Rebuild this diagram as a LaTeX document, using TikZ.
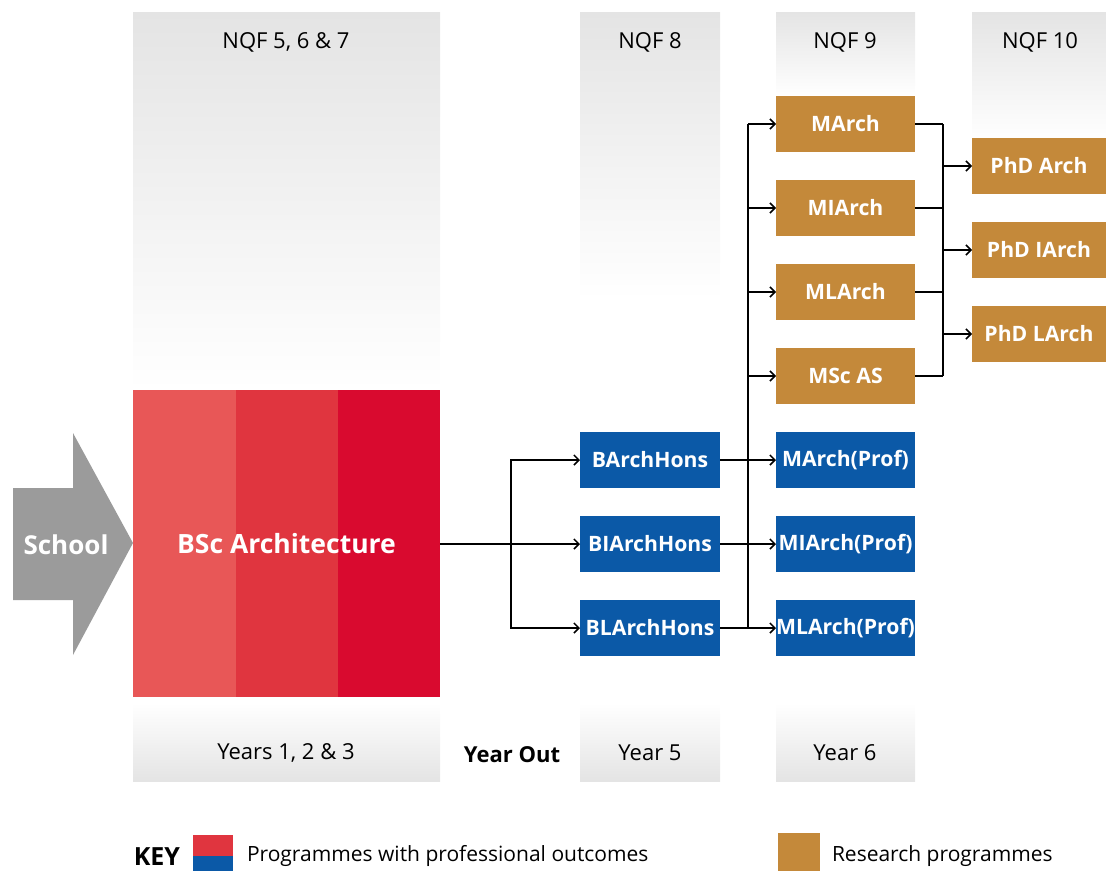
\documentclass[tikz,border=0pt]{standalone}
\usepackage{fontspec}
\setmainfont{Open Sans}
\usetikzlibrary{positioning,arrows.meta}
\definecolor{profblue}{HTML}{0B59A7}
\definecolor{resgold}{HTML}{C4893A}
\definecolor{yearone}{HTML}{E85757}
\definecolor{yeartwo}{HTML}{E0353F}
\definecolor{yearthree}{HTML}{D90A2F}
\definecolor{schoolgray}{HTML}{9B9B9B}
\definecolor{colgray}{HTML}{E4E4E4}
\begin{document}
\begin{tikzpicture}[x=1pt, y=-1pt,
    every node/.style={inner sep=0pt, outer sep=0pt},
    prog/.style={minimum height=56pt, text=white, font=\fontsize{21.2}{24}\selectfont\bfseries},
    prof/.style={prog, fill=profblue, minimum width=140pt},
    res/.style={prog, fill=resgold, minimum width=139pt},
    phd/.style={prog, fill=resgold, minimum width=134pt},
    level/.style={font=\fontsize{22}{26}\selectfont},
    keytext/.style={anchor=west, font=\fontsize{21}{25}\selectfont},
    link/.style={line width=1.5pt},
    arr/.style={link, -{Straight Barb[length=5pt, width=10pt]}}]
\useasboundingbox (0,0) rectangle (1106,871);
% level columns
\shade[top color=colgray, bottom color=white] (133,12) rectangle (440,390);
\shade[top color=colgray, bottom color=white] (580,12) rectangle (720,300);
\shade[top color=colgray, bottom color=white] (776,12) rectangle (915,96);
\shade[top color=colgray, bottom color=white] (972,12) rectangle (1106,140);
\shade[top color=white, bottom color=colgray] (133,703) rectangle (440,781);
\shade[top color=white, bottom color=colgray] (580,703) rectangle (720,781);
\shade[top color=white, bottom color=colgray] (776,703) rectangle (915,781);
\node[level] (nqfa) at (286,42) {NQF 5, 6 \& 7};
\node[level] (nqfb) at (650,42) {NQF 8};
\node[level] (nqfc) at (845,42) {NQF 9};
\node[level] (nqfd) at (1040,42) {NQF 10};
\node[level] (yra) at (286,753) {Years 1, 2 \& 3};
\node[level, font=\fontsize{22}{26}\selectfont\bfseries] (yrout) at (512,755) {Year Out};
\node[level] (yrb) at (650,753) {Year 5};
\node[level] (yrc) at (845,753) {Year 6};
% school and BSc
\fill[schoolgray] (13,488) -- (73,488) -- (73,433) -- (133,543) -- (73,655) -- (73,600) -- (13,600) -- cycle;
\node[prog, font=\fontsize{26}{30}\selectfont\bfseries] (school) at (66,545) {School};
\fill[yearone] (133,390) rectangle (236,697);
\fill[yeartwo] (236,390) rectangle (338,697);
\fill[yearthree] (338,390) rectangle (440,697);
\node[prog, minimum width=307pt, minimum height=307pt, font=\fontsize{26.5}{30}\selectfont\bfseries] (bsc) at (286.5,543.5) {BSc Architecture};
% programmes
\node[prof] (barch) at (650,460) {BArchHons};
\node[prof] (biarch) at (650,544) {BIArchHons};
\node[prof] (blarch) at (650,628) {BLArchHons};
\node[res] (march) at (845.5,124) {MArch};
\node[res] (miarch) at (845.5,208) {MIArch};
\node[res] (mlarch) at (845.5,292) {MLArch};
\node[res] (msc) at (845.5,376) {MSc AS};
\node[prof, minimum width=139pt] (marchp) at (845.5,460) {MArch(Prof)};
\node[prof, minimum width=139pt] (miarchp) at (845.5,544) {MIArch(Prof)};
\node[prof, minimum width=139pt] (mlarchp) at (845.5,628) {MLArch(Prof)};
\node[phd] (phda) at (1039,166) {PhD Arch};
\node[phd] (phdi) at (1039,250) {PhD IArch};
\node[phd] (phdl) at (1039,334) {PhD LArch};
% connectors
\coordinate (splitb) at (511,544);
\coordinate (splitm) at (748,544);
\coordinate (splitp) at (943,250);
\draw[link] (bsc.east |- splitb) -- (splitb);
\foreach \n in {barch,biarch,blarch}
  \draw[arr] (splitb) |- (\n.west);
\draw[arr] (barch) -- (marchp);
\draw[arr] (biarch) -- (miarchp);
\draw[arr] (blarch) -- (mlarchp);
\draw[link] (blarch.east -| splitm) -- (march.west -| splitm);
\foreach \n in {march,miarch,mlarch,msc}
  \draw[arr] (\n.west -| splitm) -- (\n.west);
\foreach \n in {march,miarch,mlarch,msc}
  \draw[link] (\n.east) -- (\n.east -| splitp);
\draw[link] (march.east -| splitp) -- (msc.east -| splitp);
\foreach \n in {phda,phdi,phdl}
  \draw[arr] (\n.west -| splitp) -- (\n.west);
% key
\node[level, font=\fontsize{25}{28}\selectfont\bfseries] (key) at (157,857) {KEY};
\fill[yeartwo] (193,835) rectangle (233,856);
\fill[profblue] (193,856) rectangle (233,871);
\node[keytext] (keyprof) at (247,856) {Programmes with professional outcomes};
\fill[resgold] (778,833) rectangle (820,871);
\node[keytext] (keyres) at (832,856) {Research programmes};
\end{tikzpicture}
\end{document}
